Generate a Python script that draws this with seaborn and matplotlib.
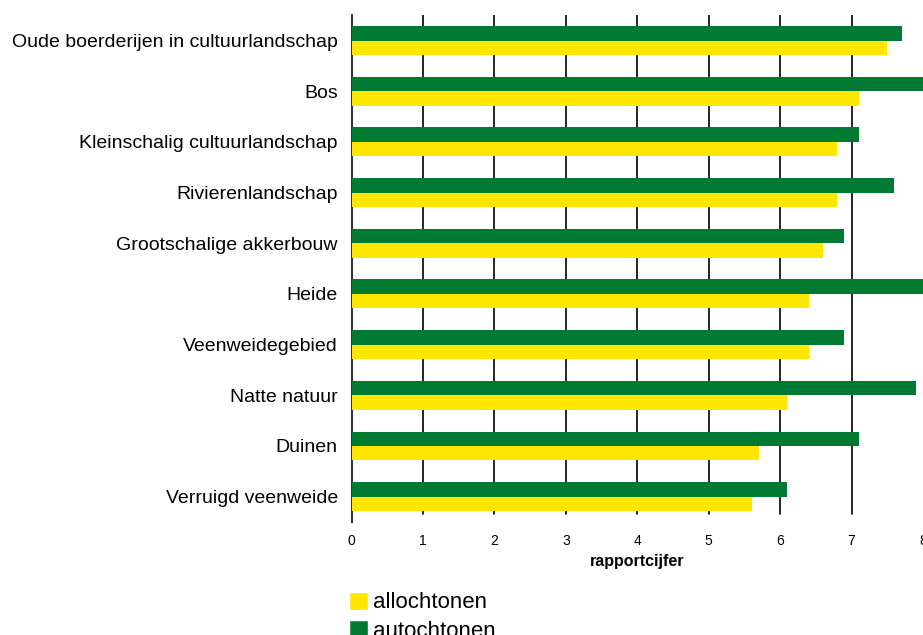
import pandas as pd
import numpy as np
import seaborn as sns
import matplotlib.pyplot as plt
from matplotlib.patches import Patch

categories = ['Oude boerderijen in cultuurlandschap', 'Bos', 'Kleinschalig cultuurlandschap',
              'Rivierenlandschap', 'Grootschalige akkerbouw', 'Heide', 'Veenweidegebied',
              'Natte natuur', 'Duinen', 'Verruigd veenweide']
autochtonen = [7.7, 8.0, 7.1, 7.6, 6.9, 8.0, 6.9, 7.9, 7.1, 6.1]
allochtonen = [7.5, 7.1, 6.8, 6.8, 6.6, 6.4, 6.4, 6.1, 5.7, 5.6]
xticks = [0, 1, 2, 3, 4, 5, 6, 7, 8]

green = '#007A33'
yellow = '#FFE600'

df = pd.DataFrame({
    'landschap': categories * 2,
    'groep': ['autochtonen'] * len(categories) + ['allochtonen'] * len(categories),
    'cijfer': autochtonen + allochtonen,
})

sns.set_style('white')
plt.rcParams['font.family'] = ['Liberation Sans', 'DejaVu Sans']
plt.rcParams['text.color'] = 'black'
plt.rcParams['axes.labelcolor'] = 'black'
plt.rcParams['xtick.color'] = 'black'
plt.rcParams['ytick.color'] = 'black'

fig = plt.figure(figsize=(9.23, 6.35), dpi=100)
ax = fig.add_axes([0.381, 0.178, 0.619, 0.798])

sns.barplot(data=df, y='landschap', x='cijfer', hue='groep', orient='h',
            hue_order=['autochtonen', 'allochtonen'],
            palette={'autochtonen': green, 'allochtonen': yellow},
            width=0.57, saturation=1, legend=False, ax=ax, zorder=3,
            linewidth=0, edgecolor='none')

ax.set_xlim(0, 8)
ax.set_ylim(9.5, -0.5)
ax.set_xticks(xticks)
ax.set_xticklabels([str(t) for t in xticks], fontsize=10)
ax.set_xlabel('rapportcijfer', fontsize=11.5, fontweight='bold', labelpad=4)
ax.set_ylabel('')

# vertical grid lines behind the bars
for t in xticks[1:-1]:
    ax.axvline(t, color='black', lw=1.2, zorder=1, ymin=0.015, ymax=1.0)

for s in ['top', 'right', 'bottom']:
    ax.spines[s].set_visible(False)
ax.spines['left'].set_color('#333333')
ax.spines['left'].set_linewidth(1.5)

ax.tick_params(axis='x', which='major', length=4, width=3, color='black', direction='out', pad=5)
ax.tick_params(axis='y', which='major', length=0, labelsize=14, pad=10)
ax.set_yticks(np.arange(0.5, 10, 1.0), minor=True)
ax.tick_params(axis='y', which='minor', length=4, width=3, color='black', direction='out')

handles = [Patch(facecolor=yellow, label='allochtonen'),
           Patch(facecolor=green, label='autochtonen')]
fig.legend(handles=handles, loc='upper left', bbox_to_anchor=(0.378, 0.068),
           frameon=False, fontsize=16, handlelength=0.85, handleheight=0.85,
           handletextpad=0.25, labelspacing=0.3, borderpad=0, borderaxespad=0)

fig.savefig('out.png', dpi=100)
